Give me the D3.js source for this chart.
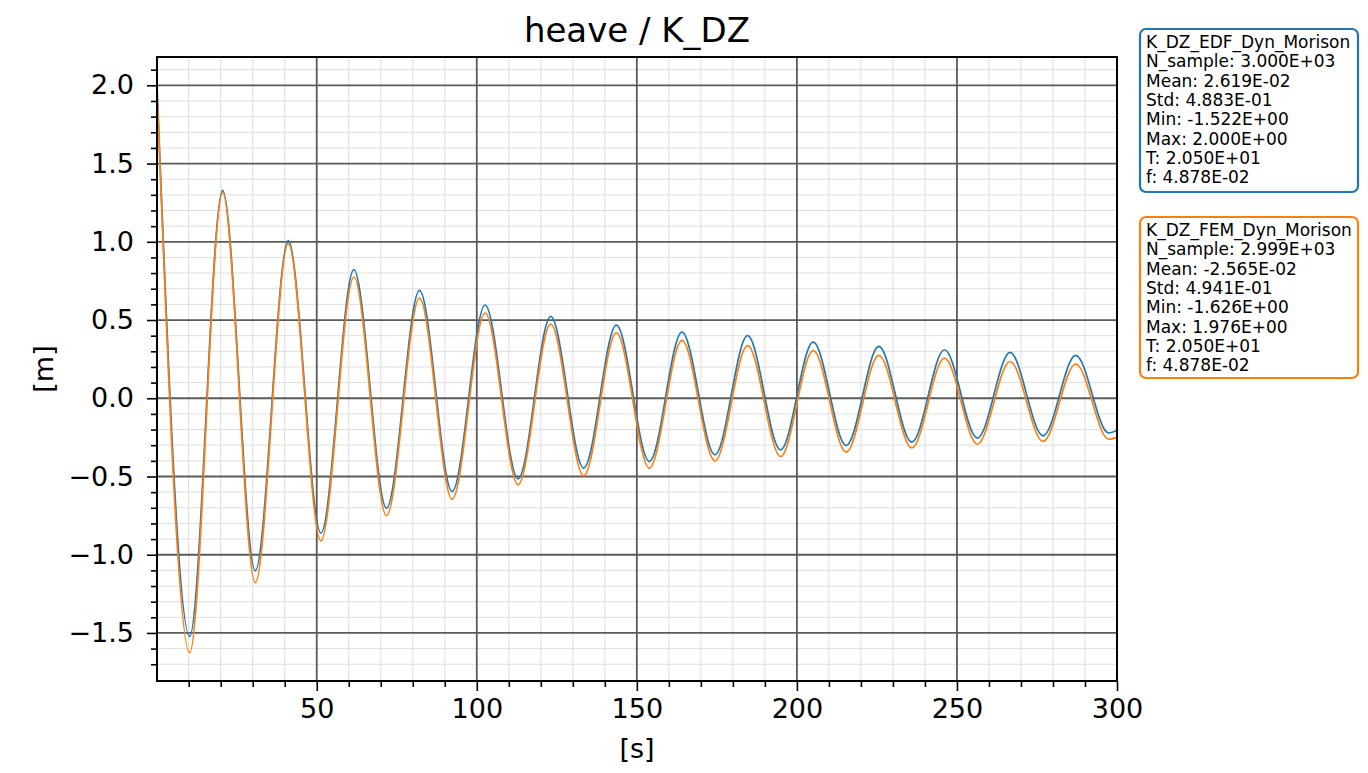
<!DOCTYPE html>
<html>
<head>
<meta charset="utf-8">
<script src="https://cdn.jsdelivr.net/npm/d3@7"></script>
<style>
body { margin: 0; background: #fff; }
text { font-family: "DejaVu Sans", sans-serif; fill: #000; }
</style>
</head>
<body>
<script>
// extrema (time in s, heave in m)
var times = [0.1, 10.3, 20.6, 30.8, 41.1, 51.3, 61.6, 71.8, 82.1, 92.3, 102.6, 112.9, 123.1, 133.4, 143.6,
             153.9, 164.1, 174.4, 184.6, 194.9, 205.1, 215.4, 225.6, 235.9, 246.1, 256.4, 266.6, 276.9, 287.1, 297.4, 300];
var edfValues = [2.000, -1.522, 1.329, -1.103, 1.007, -0.862, 0.822, -0.702, 0.689, -0.596, 0.596, -0.515, 0.523, -0.446, 0.468,
                 -0.404, 0.423, -0.361, 0.400, -0.329, 0.359, -0.302, 0.331, -0.280, 0.310, -0.255, 0.293, -0.240, 0.274, -0.222, -0.205];
var femValues = [1.976, -1.626, 1.315, -1.178, 0.990, -0.911, 0.775, -0.751, 0.640, -0.645, 0.545, -0.553, 0.474, -0.496, 0.418,
                 -0.446, 0.370, -0.400, 0.336, -0.372, 0.304, -0.344, 0.274, -0.318, 0.257, -0.293, 0.235, -0.276, 0.219, -0.262, -0.250];

var xMajor = [50, 100, 150, 200, 250, 300];
var yMajor = [-1.5, -1.0, -0.5, 0.0, 0.5, 1.0, 1.5, 2.0];

var seriesNames = ["K_DZ_EDF_Dyn_Morison", "K_DZ_FEM_Dyn_Morison"];
var seriesColors = ["#1f77b4", "#ff7f0e"];
var statLines = [
  ["N_sample: 3.000E+03", "Mean: 2.619E-02", "Std: 4.883E-01", "Min: -1.522E+00", "Max: 2.000E+00", "T: 2.050E+01", "f: 4.878E-02"],
  ["N_sample: 2.999E+03", "Mean: -2.565E-02", "Std: 4.941E-01", "Min: -1.626E+00", "Max: 1.976E+00", "T: 2.050E+01", "f: 4.878E-02"]
];

var width = 1368, height = 773;
var pLeft = 157, pRight = 1117, pTop = 57, pBottom = 681;

var svg = d3.select("body").append("svg").attr("width", width).attr("height", height);

var x = d3.scaleLinear().domain([0.1, 300]).range([pLeft, pRight]);
var y = d3.scaleLinear().domain([-1.807, 2.181]).range([pBottom, pTop]);

var xMinor = d3.range(10, 300, 10).filter(function(d){ return d % 50 !== 0; });
var yMinor = d3.range(-17, 22).filter(function(d){ return d % 5 !== 0; }).map(function(d){ return d / 10; });

// grid
var grid = svg.append("g");
grid.selectAll(".gxm").data(xMinor).enter().append("line")
  .attr("x1", x).attr("x2", x).attr("y1", pTop).attr("y2", pBottom)
  .attr("stroke", "#dedede").attr("stroke-width", 1);
grid.selectAll(".gym").data(yMinor).enter().append("line")
  .attr("y1", y).attr("y2", y).attr("x1", pLeft).attr("x2", pRight)
  .attr("stroke", "#dedede").attr("stroke-width", 1);
grid.selectAll(".gx").data(xMajor).enter().append("line")
  .attr("x1", x).attr("x2", x).attr("y1", pTop).attr("y2", pBottom)
  .attr("stroke", "#5a5a5a").attr("stroke-width", 1.8);
grid.selectAll(".gy").data(yMajor).enter().append("line")
  .attr("y1", y).attr("y2", y).attr("x1", pLeft).attr("x2", pRight)
  .attr("stroke", "#5a5a5a").attr("stroke-width", 1.8);

// curves
var line = d3.line().curve(d3.curveMonotoneX)
  .x(function(d){ return x(d[0]); })
  .y(function(d){ return y(d[1]); });

[edfValues, femValues].forEach(function(vals, i){
  svg.append("path")
    .datum(times.map(function(t, k){ return [t, vals[k]]; }))
    .attr("fill", "none")
    .attr("stroke", seriesColors[i])
    .attr("stroke-width", 1.7)
    .attr("d", line);
});

// axes
var xAxisMinor = d3.axisBottom(x).tickValues(xMinor).tickSize(6).tickFormat("");
var xAxis = d3.axisBottom(x).tickValues(xMajor).tickSize(10).tickPadding(8).tickFormat(d3.format("d"));
var yAxisMinor = d3.axisLeft(y).tickValues(yMinor).tickSize(6).tickFormat("");
var yAxis = d3.axisLeft(y).tickValues(yMajor).tickSize(10).tickPadding(13).tickFormat(d3.format(".1f"));

function styleAxis(g) {
  g.select(".domain").remove();
  g.selectAll(".tick line").attr("stroke", "#000").attr("stroke-width", 1.6);
  g.selectAll(".tick text").style("font-family", "DejaVu Sans").style("font-size", "27px").attr("fill", "#000");
}

svg.append("g").attr("transform", "translate(0," + pBottom + ")").call(xAxisMinor).call(styleAxis);
svg.append("g").attr("transform", "translate(0," + pBottom + ")").call(xAxis).call(styleAxis);
svg.append("g").attr("transform", "translate(" + pLeft + ",0)").call(yAxisMinor).call(styleAxis);
svg.append("g").attr("transform", "translate(" + pLeft + ",0)").call(yAxis).call(styleAxis);

// frame
svg.append("rect")
  .attr("x", pLeft).attr("y", pTop).attr("width", pRight - pLeft).attr("height", pBottom - pTop)
  .attr("fill", "none").attr("stroke", "#000").attr("stroke-width", 2);

// title and labels
svg.append("text").attr("x", (pLeft + pRight) / 2).attr("y", 42)
  .attr("text-anchor", "middle").style("font-size", "34px").text("heave / K_DZ");
svg.append("text").attr("x", (pLeft + pRight) / 2).attr("y", 758)
  .attr("text-anchor", "middle").style("font-size", "27px").text("[s]");
svg.append("text").attr("transform", "translate(53," + (pTop + pBottom) / 2 + ") rotate(-90)")
  .attr("text-anchor", "middle").style("font-size", "27px").text("[m]");

// stat boxes
var boxTops = [29, 217];
var boxHeights = [163, 161];
seriesNames.forEach(function(name, i){
  var g = svg.append("g");
  g.append("rect")
    .attr("x", 1140).attr("y", boxTops[i]).attr("width", 218).attr("height", boxHeights[i])
    .attr("rx", 6).attr("ry", 6)
    .attr("fill", "#fff").attr("stroke", seriesColors[i]).attr("stroke-width", 2.2);
  var rows = [name].concat(statLines[i]);
  g.selectAll("text").data(rows).enter().append("text")
    .attr("x", 1146)
    .attr("y", function(d, k){ return boxTops[i] + 19 + k * 19.3; })
    .style("font-size", "17px")
    .text(function(d){ return d; });
});
</script>
</body>
</html>
